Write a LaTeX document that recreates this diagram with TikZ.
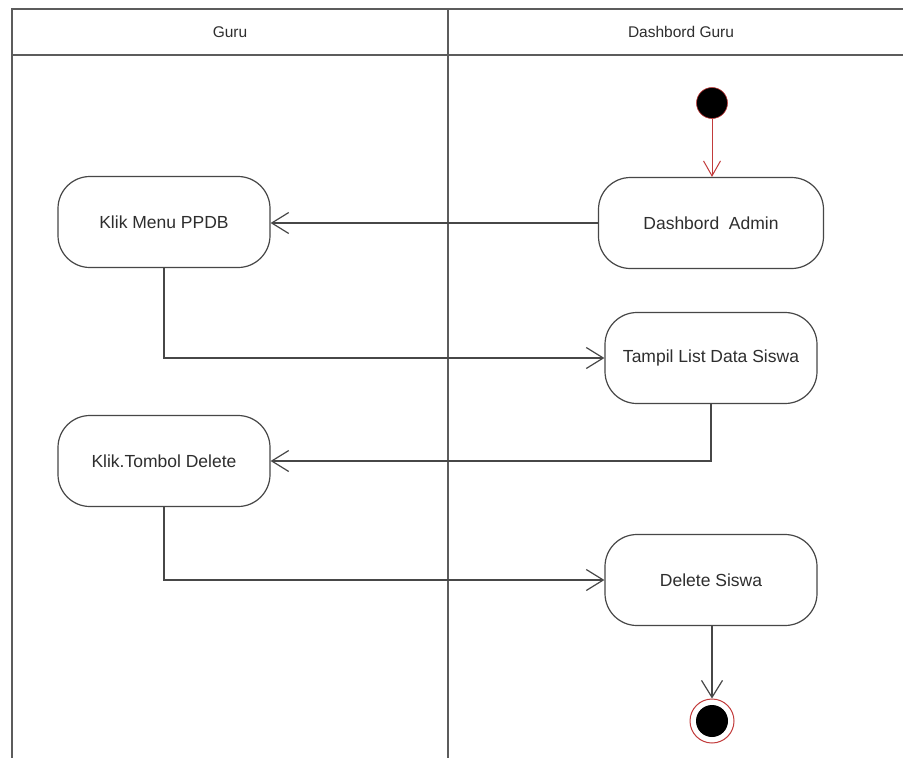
\documentclass[tikz,border=0pt]{standalone}
\usepackage{fontspec}
\setmainfont{Liberation Sans}
\usetikzlibrary{arrows.meta}
\definecolor{linegray}{HTML}{474747}
\definecolor{framegray}{HTML}{5C5C5C}
\definecolor{textgray}{HTML}{2E2E2E}
\definecolor{flowred}{HTML}{C23B3B}
\begin{document}
\begin{tikzpicture}[x=1pt,y=-1pt,
  lane/.style={draw=framegray, line width=1.4pt},
  hdr/.style={text=textgray, font=\fontsize{15.5}{18}\selectfont, inner sep=0pt},
  action/.style={draw=linegray, line width=1.2pt, rounded corners=32pt,
    minimum width=212pt, minimum height=91pt, inner sep=0pt, fill=white,
    text=textgray, font=\fontsize{17.5}{20}\selectfont},
  arr/.style={draw=linegray, line width=1.2pt,
    -{Straight Barb[length=17pt,width=21pt]}},
  redarr/.style={draw=flowred, line width=1pt,
    -{Straight Barb[length=15pt,width=17pt]}},
  startdot/.style={circle, fill=black, draw=flowred, line width=0.6pt,
    minimum size=31pt, inner sep=0pt},
  endring/.style={circle, draw=flowred, line width=1pt, fill=white,
    minimum size=44pt, inner sep=0pt},
  enddot/.style={circle, fill=black, minimum size=32pt, inner sep=0pt}]

\useasboundingbox (0,0) rectangle (903,758);
\fill[white] (0,0) rectangle (903,758);

% swimlane frame: header row and the two lanes
\begin{scope}
  \clip (0,0) rectangle (903,758);
  \draw[lane] (12,9) rectangle (915,775);
  \draw[lane] (12,55) -- (915,55);
  \draw[lane] (448,9) -- (448,775);
\end{scope}
\node[hdr] (hguru) at (230,32) {Guru};
\node[hdr] (hdash) at (681,32) {Dashbord Guru};

% activities
\node[startdot] (start) at (712,103) {};
\node[action, minimum width=225pt] (admin) at (711,223) {Dashbord\ \ Admin};
\node[action] (ppdb) at (164,222) {Klik Menu PPDB};
\node[action] (tampil) at (711,358) {Tampil List Data Siswa};
\node[action] (tombol) at (164,461) {Klik.Tombol Delete};
\node[action] (hapus) at (711,580) {Delete Siswa};
\node[endring] (stop) at (712,721) {};
\node[enddot] (stopcore) at (stop.center) {};

% flow
\draw[redarr] (start) -- (admin.north -| start);
\draw[arr] (admin.west) -- (admin.west -| ppdb.east);
\draw[arr] (ppdb.south) |- (tampil.west);
\draw[arr] (tampil.south) |- (tombol.east);
\draw[arr] (tombol.south) |- (hapus.west);
\draw[arr] (hapus.south -| stop) -- (stop.north);
\end{tikzpicture}
\end{document}
